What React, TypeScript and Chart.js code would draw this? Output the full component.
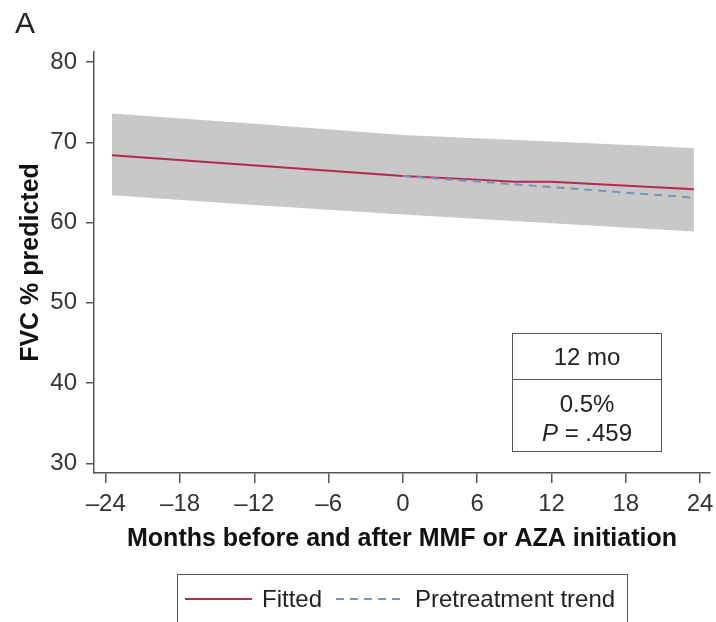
import React, { useEffect, useRef } from "react";
import { Chart, registerables } from "chart.js";

Chart.register(...registerables);

// ---- data ----
const bandMonths = [-23.5, -12, 0, 12, 23.5];
const bandUpper = [73.6, 72.3, 70.9, 70.1, 69.3];
const bandLower = [63.4, 62.2, 61.0, 59.9, 58.9];

const fittedMonths = [-23.5, 0, 6, 9, 12, 23.5];
const fittedValues = [68.4, 65.8, 65.35, 65.1, 65.1, 64.15];

const trendMonths = [0, 23.5];
const trendValues = [65.8, 63.1];

const xTickValues = [-24, -18, -12, -6, 0, 6, 12, 18, 24];
const xTickLabels = ["\u201324", "\u201318", "\u201312", "\u20136", "0", "6", "12", "18", "24"];
const yTickValues = [30, 40, 50, 60, 70, 80];

const FONT = "'Liberation Sans', Arial, Helvetica, sans-serif";
const FITTED_COLOR = "#b8284f";
const TREND_COLOR = "#6f98b8";
const BAND_COLOR = "#c8c8c8";
const AXIS_COLOR = "#555555";

const pts = (xs: number[], ys: number[]) => xs.map((x, i) => ({ x, y: ys[i] }));

export default function App() {
  const ref = useRef<HTMLCanvasElement | null>(null);

  useEffect(() => {
    if (!ref.current) return;
    const chart = new Chart(ref.current, {
      type: "line",
      data: {
        datasets: [
          {
            label: "Fitted",
            data: pts(fittedMonths, fittedValues),
            borderColor: FITTED_COLOR,
            borderWidth: 2,
            pointRadius: 0,
            fill: false,
            tension: 0,
            order: 1,
          },
          {
            label: "Pretreatment trend",
            data: pts(trendMonths, trendValues),
            borderColor: TREND_COLOR,
            borderWidth: 2,
            borderDash: [8, 6],
            pointRadius: 0,
            fill: false,
            order: 0,
          },
          {
            label: "upper",
            data: pts(bandMonths, bandUpper),
            borderWidth: 0,
            borderColor: "rgba(0,0,0,0)",
            backgroundColor: BAND_COLOR,
            pointRadius: 0,
            fill: "+1",
            order: 10,
          },
          {
            label: "lower",
            data: pts(bandMonths, bandLower),
            borderWidth: 0,
            borderColor: "rgba(0,0,0,0)",
            pointRadius: 0,
            fill: false,
            order: 11,
          },
        ],
      },
      options: {
        animation: false,
        responsive: false,
        layout: { padding: { left: 0, top: 52, right: 6, bottom: 62 } },
        plugins: { legend: { display: false }, tooltip: { enabled: false } },
        scales: {
          x: {
            type: "linear",
            min: -24.95,
            max: 24.8,
            afterBuildTicks: (s: any) => {
              s.ticks = xTickValues.map((v) => ({ value: v }));
            },
            afterFit: (s: any) => {
              s.height = 87;
              s.paddingLeft = 0;
              s.paddingRight = 0;
            },
            ticks: {
              autoSkip: false,
              maxRotation: 0,
              padding: 7,
              color: "#333",
              font: { family: FONT, size: 24 },
              callback: (v: any) => xTickLabels[xTickValues.indexOf(Number(v))] ?? "",
            },
            grid: {
              drawOnChartArea: false,
              drawTicks: true,
              tickLength: 10,
              color: AXIS_COLOR,
              lineWidth: 1.5,
            },
            border: { display: true, color: AXIS_COLOR, width: 1.5 },
            title: {
              display: true,
              text: "Months before and after MMF or AZA initiation",
              color: "#111",
              font: { family: FONT, size: 25, weight: "bold" },
              padding: { top: 0, bottom: 6 },
            },
          },
          y: {
            type: "linear",
            min: 28.8,
            max: 81.25,
            afterBuildTicks: (s: any) => {
              s.ticks = yTickValues.map((v) => ({ value: v }));
            },
            afterFit: (s: any) => {
              s.width = 94;
              s.paddingTop = 0;
              s.paddingBottom = 0;
            },
            ticks: {
              padding: 9,
              color: "#333",
              font: { family: FONT, size: 24 },
              callback: (v: any) => String(v),
            },
            grid: {
              drawOnChartArea: false,
              drawTicks: true,
              tickLength: 8,
              color: AXIS_COLOR,
              lineWidth: 1.5,
            },
            border: { display: true, color: AXIS_COLOR, width: 1.5 },
            title: {
              display: true,
              text: "FVC % predicted",
              color: "#111",
              font: { family: FONT, size: 25, weight: "bold" },
              padding: { top: 16, bottom: 0 },
            },
          },
        },
      },
    } as any);
    return () => chart.destroy();
  }, []);

  const textStyle: React.CSSProperties = {
    position: "absolute",
    fontFamily: FONT,
    fontSize: 24,
    color: "#222",
    whiteSpace: "nowrap",
    lineHeight: "28px",
  };

  return (
    <div
      style={{
        position: "absolute",
        left: 0,
        top: 0,
        width: 716,
        height: 622,
        overflow: "hidden",
        background: "#fff",
      }}
    >
      <canvas ref={ref} width={716} height={622} style={{ position: "absolute", left: 0, top: 0 }} />
      <div style={{ ...textStyle, left: 15, top: 5, fontSize: 30, lineHeight: "36px" }}>A</div>

      {/* annotation box */}
      <div
        style={{
          position: "absolute",
          left: 512,
          top: 333,
          width: 150,
          height: 119,
          boxSizing: "border-box",
          border: `1.5px solid ${AXIS_COLOR}`,
          fontFamily: FONT,
          fontSize: 24,
          color: "#222",
          textAlign: "center",
        }}
      >
        <div
          style={{
            height: 45,
            lineHeight: "45px",
            borderBottom: `1.5px solid ${AXIS_COLOR}`,
          }}
        >
          12 mo
        </div>
        <div style={{ paddingTop: 9, lineHeight: "29px" }}>
          <div>0.5%</div>
          <div>
            <i>P</i> = .459
          </div>
        </div>
      </div>

      {/* legend */}
      <div
        style={{
          position: "absolute",
          left: 177,
          top: 574,
          width: 451,
          height: 70,
          boxSizing: "border-box",
          border: `1.5px solid ${AXIS_COLOR}`,
        }}
      />
      <svg width={716} height={622} style={{ position: "absolute", left: 0, top: 0 }}>
        <line x1={185} y1={599} x2={252} y2={599} stroke={FITTED_COLOR} strokeWidth={2} />
        <line x1={336} y1={599} x2={404} y2={599} stroke={TREND_COLOR} strokeWidth={2} strokeDasharray="8 6" />
      </svg>
      <div style={{ ...textStyle, left: 262, top: 585 }}>Fitted</div>
      <div style={{ ...textStyle, left: 415, top: 585 }}>Pretreatment trend</div>
    </div>
  );
}
